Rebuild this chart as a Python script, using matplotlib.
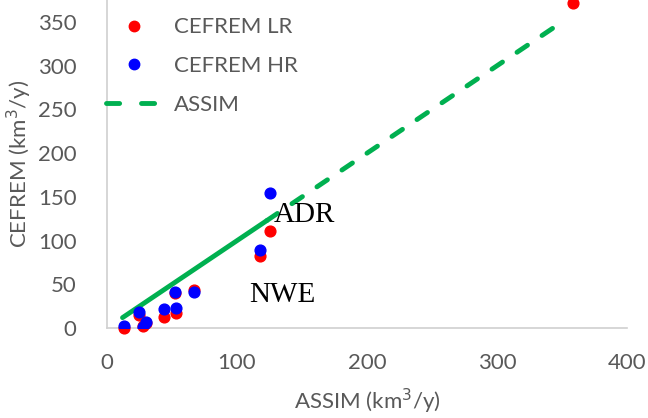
import matplotlib.pyplot as plt
import numpy as np
from matplotlib.lines import Line2D

# ASSIM discharge per basin (km3/y) and CEFREM estimates
assim = [13, 25, 28, 30, 44, 52, 53, 67, 118, 125, 358]
cefrem_lr = [0.5, 15, 2, 6, 13, 40, 17, 43.5, 82.5, 111, 372]
cefrem_hr = [2.6, 18.7, 1.5, 7.2, 21.4, 41, 23, 41.2, 89, 155, np.nan]

# ASSIM reference line (1:1), solid-looking where basins are dense
line_x_dense = [12, 25, 44, 52, 67, 95, 123]
line_x_sparse = [123, 347]

labels = ["CEFREM LR", "CEFREM HR", "ASSIM"]
basin_labels = [("ADR", 152, 129), ("NWE", 135, 38)]

plt.rcParams['font.family'] = ['Lato', 'DejaVu Sans']
grey = '#595959'
green = '#00B050'

fig = plt.figure(figsize=(6.48, 4.18), dpi=100)
ax = fig.add_axes([0.165, 0.215, 0.803, 0.785])

ax.plot(line_x_dense, line_x_dense, color=green, lw=3.5,
        solid_capstyle='round', zorder=2)
ax.plot(line_x_sparse, line_x_sparse, color=green, lw=3.5,
        linestyle=(0, (2.6, 3.6)), dash_capstyle='round', zorder=2)

ax.scatter(assim, cefrem_lr, s=60, color='#FF0000', zorder=3, clip_on=False)
ax.scatter(assim, cefrem_hr, s=60, color='#0000FF', zorder=4)

for txt, x, y in basin_labels:
    ax.text(x, y, txt, fontsize=21, family='Liberation Serif',
            ha='center', va='center', zorder=5)

ax.set_xlim(0, 400)
ax.set_ylim(0, 375)
ax.set_xticks(np.arange(0, 401, 100))
ax.set_yticks(np.arange(0, 351, 50))
ax.tick_params(axis='y', length=0, labelsize=16, colors=grey, pad=22)
ax.tick_params(axis='x', length=0, labelsize=16, colors=grey, pad=18)

for s in ['top', 'right']:
    ax.spines[s].set_visible(False)
for s in ['left', 'bottom']:
    ax.spines[s].set_color('#d0d0d0')
    ax.spines[s].set_linewidth(1.2)

ax.set_xlabel('ASSIM (km$^3$/y)', fontsize=16, color=grey, labelpad=10)
ax.set_ylabel('CEFREM (km$^3$/y)', fontsize=16, color=grey, labelpad=3)

handles = [
    Line2D([], [], marker='o', color='#FF0000', ls='none', markersize=7.5),
    Line2D([], [], marker='o', color='#0000FF', ls='none', markersize=7.5),
    Line2D([], [], color=green, lw=3.5, linestyle=(0, (2.7, 4.5)),
           dash_capstyle='round'),
]
ax.legend(handles, labels, loc='upper left', bbox_to_anchor=(-0.04, 1.008),
          frameon=False, fontsize=16, labelcolor=grey, handlelength=2.5,
          handletextpad=0.55, labelspacing=0.85)

fig.savefig('out.png', dpi=100)
